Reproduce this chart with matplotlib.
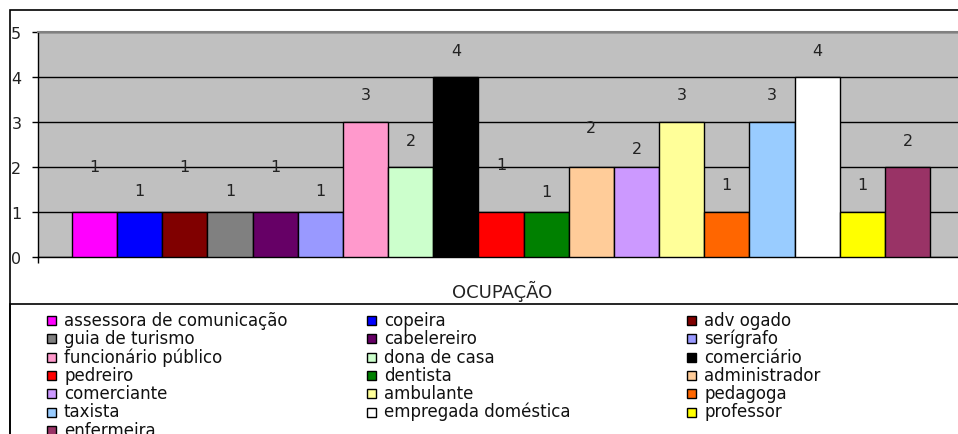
import matplotlib.pyplot as plt
from matplotlib.patches import Rectangle
import numpy as np

# occupations (one series each in the original chart)
ocupacoes = [
    "assessora de comunicação", "copeira", "adv ogado",
    "guia de turismo", "cabelereiro", "serígrafo",
    "funcionário público", "dona de casa", "comerciário",
    "pedreiro", "dentista", "administrador",
    "comerciante", "ambulante", "pedagoga",
    "taxista", "empregada doméstica", "professor",
    "enfermeira",
]
valores = [1, 1, 1, 1, 1, 1, 3, 2, 4, 1, 1, 2, 2, 3, 1, 3, 4, 1, 2]
cores = [
    "#FF00FF", "#0000FF", "#800000",
    "#808080", "#660066", "#9999FF",
    "#FF99CC", "#CCFFCC", "#000000",
    "#FF0000", "#008000", "#FFCC99",
    "#CC99FF", "#FFFF99", "#FF6600",
    "#99CCFF", "#FFFFFF", "#FFFF00",
    "#993366",
]
# data labels sit at odd heights above each bar in the original
label_offset = [1.0, 0.47, 1.0, 0.47, 1.0, 0.47, 0.62, 0.58, 0.58,
                1.05, 0.45, 0.87, 0.4, 0.62, 0.62, 0.62, 0.58, 0.62, 0.58]
yticks = [0, 1, 2, 3, 4, 5]

W, H = 958, 435
plt.rcParams['font.family'] = ['DejaVu Sans']
fig = plt.figure(figsize=(W / 100, H / 100), dpi=100)


def fx(px):
    return px / W


def fy(py):
    return 1 - py / H


# outer chart border (right/bottom fall outside the crop)
fig.add_artist(Rectangle((fx(10), fy(500)), fx(1000), fy(11) - fy(500),
                         transform=fig.transFigure, fill=False,
                         edgecolor="black", linewidth=1.2))

# plot area
ax = fig.add_axes([fx(38), fy(258), fx(964 - 38), fy(33) - fy(258)])
ax.set_facecolor("#C0C0C0")
x = np.arange(len(valores))
ax.bar(x, valores, width=1.0, color=cores, edgecolor="black", linewidth=1.0, zorder=3)
for xi, v, off in zip(x, valores, label_offset):
    ax.text(xi, v + off, str(v), ha="center", va="center", fontsize=11.5,
            color="#222222", zorder=4)

ax.set_xlim(-1.25, 19.25)
ax.set_ylim(0, 5)
ax.set_yticks(yticks)
ax.set_yticklabels([str(t) for t in yticks], fontsize=11.5, color="#222222")
ax.set_xticks([-1.25])
ax.set_xticklabels([""])
ax.tick_params(axis="y", length=4, width=1, pad=8)
ax.tick_params(axis="x", length=4, width=1)
ax.grid(axis="y", color="black", linewidth=1.0, zorder=1)
ax.spines["top"].set_color("#808080")
ax.spines["top"].set_linewidth(1.5)
ax.spines["right"].set_visible(False)
ax.spines["left"].set_linewidth(1.0)
ax.spines["bottom"].set_linewidth(1.0)
ax.set_axisbelow(True)

fig.text(fx(502), fy(291), "OCUPAÇÃO", ha="center", va="center", fontsize=13,
         color="#222222")

# legend box
fig.add_artist(Rectangle((fx(10), fy(500)), fx(1000), fy(305) - fy(500),
                         transform=fig.transFigure, fill=False,
                         edgecolor="black", linewidth=1.2))
col_x = [47, 367, 687]
base_y0, row_dy = 326, 18.3
for i, (nome, cor) in enumerate(zip(ocupacoes, cores)):
    r, c = divmod(i, 3)
    yb = base_y0 + r * row_dy
    fig.add_artist(Rectangle((fx(col_x[c]), fy(yb)), fx(9), fy(yb - 9) - fy(yb),
                             transform=fig.transFigure, facecolor=cor,
                             edgecolor="black", linewidth=1.0))
    fig.text(fx(col_x[c] + 17), fy(yb), nome, ha="left", va="baseline", fontsize=12,
             color="#111111")

fig.savefig("out.png", dpi=100)
